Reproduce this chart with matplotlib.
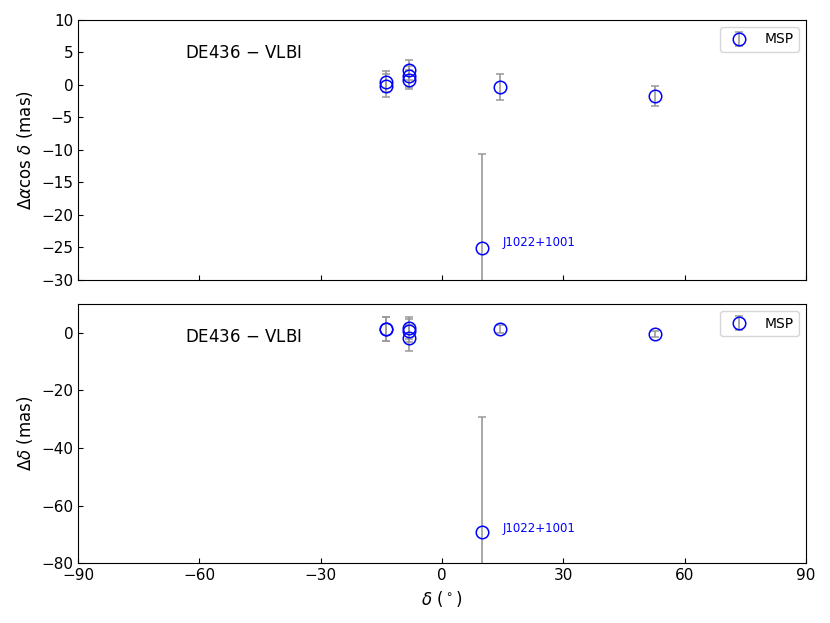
import numpy as np
from matplotlib import pyplot as plt

# declination of the sources (deg)
dec = [-13.8, -13.8, -8.2, -8.2, -8.2, 14.3, 52.8, 10.0]
# DE436 - VLBI offsets (mas)
dra = [0.5, -0.1, 2.3, 1.3, 0.8, -0.4, -1.7, -25.1]
dra_err = [1.6, 1.7, 1.6, 1.6, 1.5, 2.0, 1.6, 14.5]
ddec = [1.3, 1.3, 1.6, 0.8, -1.8, 1.3, -0.5, -69.3]
ddec_err = [4.1, 4.1, 3.8, 4.0, 4.4, 1.5, 1.0, 40.0]
label_src = 'J1022+1001'

fig = plt.figure(figsize=(8.3, 6.23), dpi=100)
ax1 = fig.add_axes([0.094, 0.551, 0.877, 0.417])
ax2 = fig.add_axes([0.094, 0.096, 0.877, 0.416])

for ax, y, yerr in [(ax1, dra, dra_err), (ax2, ddec, ddec_err)]:
    ax.errorbar(dec, y, yerr=yerr, fmt='o', mfc='none', mec='blue', ms=9,
                mew=1.1, ecolor='#999999', elinewidth=1.2, capsize=3,
                label='MSP')
    ax.set_xlim(-90, 90)
    ax.set_xticks(np.arange(-90, 91, 30))
    ax.tick_params(direction='in', labelsize=11)
    ax.text(0.147, 0.873, 'DE436 $-$ VLBI', transform=ax.transAxes,
            fontsize=12, va='center')
    ax.legend(loc='upper right', fontsize=10)

ax1.set_ylim(-30, 10)
ax1.set_xticklabels([])
ax1.set_ylabel(r'$\Delta\alpha\cos\,\delta$ (mas)', fontsize=12)
ax1.text(dec[-1] + 5, dra[-1] + 0.8, label_src, color='blue', fontsize=8.5,
         va='center')

ax2.set_ylim(-80, 10)
ax2.set_ylabel(r'$\Delta\delta$ (mas)', fontsize=12)
ax2.set_xlabel(r'$\delta$ ($^\circ$)', fontsize=12)
ax2.text(dec[-1] + 5, ddec[-1] + 1.5, label_src, color='blue', fontsize=8.5,
         va='center')

plt.savefig('out.png')
